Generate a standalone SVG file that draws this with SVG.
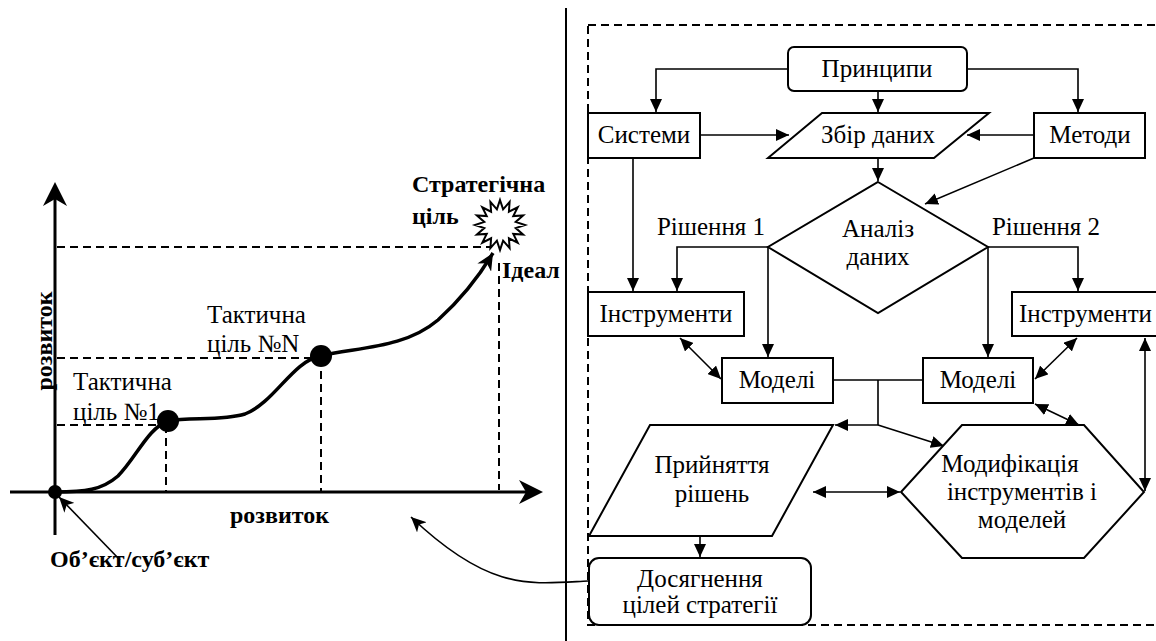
<svg xmlns="http://www.w3.org/2000/svg" width="1156" height="641" viewBox="0 0 1156 641">
<defs>
<style>
.t{font-family:"Liberation Serif","Times New Roman",serif;font-size:25px;fill:#000}
.b{font-family:"Liberation Serif","Times New Roman",serif;font-size:24px;font-weight:bold;fill:#000}
.m{text-anchor:middle}
.sh{fill:#fff;stroke:#000;stroke-width:2}
.c{fill:none;stroke:#000;stroke-width:1.6}
.d{fill:none;stroke:#000;stroke-width:2;stroke-dasharray:8,5}
</style>
<marker id="a" markerUnits="userSpaceOnUse" markerWidth="14" markerHeight="12" refX="13" refY="6" orient="auto-start-reverse">
<path d="M0,0 L13,6 L0,12 z" fill="#000"/>
</marker>
<marker id="ca" markerUnits="userSpaceOnUse" markerWidth="18" markerHeight="16" refX="17" refY="8" orient="auto">
<path d="M0,0 L17,8 L0,16 L5,8 z" fill="#000"/>
</marker>
<marker id="ct" markerUnits="userSpaceOnUse" markerWidth="16" markerHeight="14" refX="15" refY="7" orient="auto">
<path d="M0,0 L15,7 L0,14 L4,7 z" fill="#000"/>
</marker>
</defs>
<rect width="1156" height="641" fill="#fff"/>

<g id="chart">
<path class="d" d="M57,247 H490 M57,358 H318 M57,425 H165 M166,425 V492 M321,358 V492 M499,263 V490"/>
<line x1="55" y1="535" x2="55" y2="196" stroke="#000" stroke-width="3"/>
<polygon points="55,182 67,206 55,199 43,206" fill="#000"/>
<line x1="10" y1="492" x2="530" y2="492" stroke="#000" stroke-width="3"/>
<polygon points="543,492 519,480 526,492 519,504" fill="#000"/>
<path d="M55,492 C85,492 102,490 118,476 C136,458 148,428 168,421 C190,417 222,421 245,414 C275,402 292,362 320,356 C360,347 405,348 438,320 C458,302 478,278 493,253" fill="none" stroke="#000" stroke-width="3.5" marker-end="url(#ca)"/>
<circle cx="55" cy="492" r="7" fill="#000"/>
<circle cx="168" cy="421" r="11" fill="#000"/>
<circle cx="321" cy="356" r="11" fill="#000"/>
<polygon class="sh" stroke-width="2.5" points="500,200 503.1,209.3 509.6,201.9 508.9,211.7 517.7,207.3 513.3,216.1 523.1,215.4 515.7,221.9 525,225 515.7,228.1 523.1,234.6 513.3,233.9 517.7,242.7 508.9,238.3 509.6,248.1 503.1,240.7 500,250 496.9,240.7 490.4,248.1 491.1,238.3 482.3,242.7 486.7,233.9 476.9,234.6 484.3,228.1 475,225 484.3,221.9 476.9,215.4 486.7,216.1 482.3,207.3 491.1,211.7 490.4,201.9 496.9,209.3"/>
<path d="M120,560 L59,497" fill="none" stroke="#000" stroke-width="1.6" marker-end="url(#ct)"/>
<text class="b" transform="translate(52,341) rotate(-90)" text-anchor="middle">розвиток</text>
<text class="b" x="230" y="523">розвиток</text>
<text class="b" x="50" y="567">Об’єкт/суб’єкт</text>
<text class="t" x="73" y="390">Тактична</text>
<text class="t" x="73" y="420">ціль №1</text>
<text class="t" x="207" y="323">Тактична</text>
<text class="t" x="207" y="352">ціль №N</text>
<text class="b" x="412" y="192">Стратегічна</text>
<text class="b" x="412" y="224">ціль</text>
<text class="b" x="502" y="278">Ідеал</text>
</g>

<line id="divider" x1="566" y1="8" x2="566" y2="641" stroke="#000" stroke-width="2"/>
<rect id="frame" x="588" y="25" width="620" height="600" fill="none" stroke="#000" stroke-width="2" stroke-dasharray="8,5"/>

<g id="connectors">
<path class="c" d="M788,69 H656 V112" marker-end="url(#a)"/>
<path class="c" d="M878,91 V112" marker-end="url(#a)"/>
<path class="c" d="M967,69 H1078 V112" marker-end="url(#a)"/>
<path class="c" d="M700,135 H789" marker-end="url(#a)"/>
<path class="c" d="M1034,135 H967" marker-end="url(#a)"/>
<path class="c" d="M878,158 V181" marker-end="url(#a)"/>
<path class="c" d="M1034,158 L925,204" marker-end="url(#a)"/>
<path class="c" d="M633,158 V291" marker-end="url(#a)"/>
<path class="c" d="M768,247 H677 V291" marker-end="url(#a)"/>
<path class="c" d="M768,247 V357" marker-end="url(#a)"/>
<path class="c" d="M988,247 H1078 V291" marker-end="url(#a)"/>
<path class="c" d="M988,247 V357" marker-end="url(#a)"/>
<path class="c" d="M680,338 L721,379" marker-start="url(#a)" marker-end="url(#a)"/>
<path class="c" d="M1077,338 L1035,379" marker-start="url(#a)" marker-end="url(#a)"/>
<path class="c" d="M833,380 H922 M878,380 V425"/>
<path class="c" d="M878,425 H835" marker-end="url(#a)"/>
<path class="c" d="M878,425 L944,446" marker-end="url(#a)"/>
<path class="c" d="M1035,404 L1079,425" marker-start="url(#a)" marker-end="url(#a)"/>
<path class="c" d="M1145,338 V491" marker-start="url(#a)" marker-end="url(#a)"/>
<path class="c" d="M813,492 H900" marker-start="url(#a)" marker-end="url(#a)"/>
<path class="c" d="M700,536 V557" marker-end="url(#a)"/>
<path d="M588,581 C530,584 490,592 411,517" fill="none" stroke="#000" stroke-width="1.6" marker-end="url(#ct)"/>
</g>

<g id="n-principles"><rect class="sh" x="788" y="47" width="179" height="44" rx="6"/><text class="t m" x="877" y="77">Принципи</text></g>
<g id="n-systems"><rect class="sh" x="588" y="113" width="112" height="45"/><text class="t m" x="644" y="143">Системи</text></g>
<g id="n-data"><polygon class="sh" points="822,113 989,113 934,158 768,158"/><text class="t m" x="878" y="143">Збір даних</text></g>
<g id="n-methods"><rect class="sh" x="1034" y="113" width="111" height="45"/><text class="t m" x="1090" y="143">Методи</text></g>
<g id="n-analysis"><polygon class="sh" points="878,182 988,247 878,313 768,247"/><text class="t m" x="878" y="237">Аналіз</text><text class="t m" x="878" y="265">даних</text></g>
<text id="l-sol1" class="t m" x="711" y="235">Рішення 1</text>
<text id="l-sol2" class="t m" x="1046" y="235">Рішення 2</text>
<g id="n-tools1"><rect class="sh" x="588" y="292" width="156" height="44"/><text class="t m" x="666" y="322">Інструменти</text></g>
<g id="n-tools2"><rect class="sh" x="1012" y="292" width="160" height="44"/><text class="t" x="1152" y="322" text-anchor="end">Інструменти</text></g>
<g id="n-models1"><rect class="sh" x="722" y="358" width="111" height="45"/><text class="t m" x="777" y="388">Моделі</text></g>
<g id="n-models2"><rect class="sh" x="923" y="358" width="110" height="45"/><text class="t m" x="978" y="388">Моделі</text></g>
<g id="n-decision"><polygon class="sh" points="650,425 833,425 772,536 589,536"/><text class="t m" x="712" y="473">Прийняття</text><text class="t m" x="712" y="502">рішень</text></g>
<g id="n-modify"><polygon class="sh" points="962,425 1084,425 1144,492 1084,558 962,558 901,492"/><text class="t m" x="1010" y="472">Модифікація</text><text class="t m" x="1022" y="500">інструментів і</text><text class="t m" x="1022" y="528">моделей</text></g>
<g id="n-goal"><rect class="sh" x="589" y="558" width="222" height="67" rx="10"/><text class="t m" x="700" y="587">Досягнення</text><text class="t m" x="700" y="613">цілей стратегії</text></g>
</svg>
